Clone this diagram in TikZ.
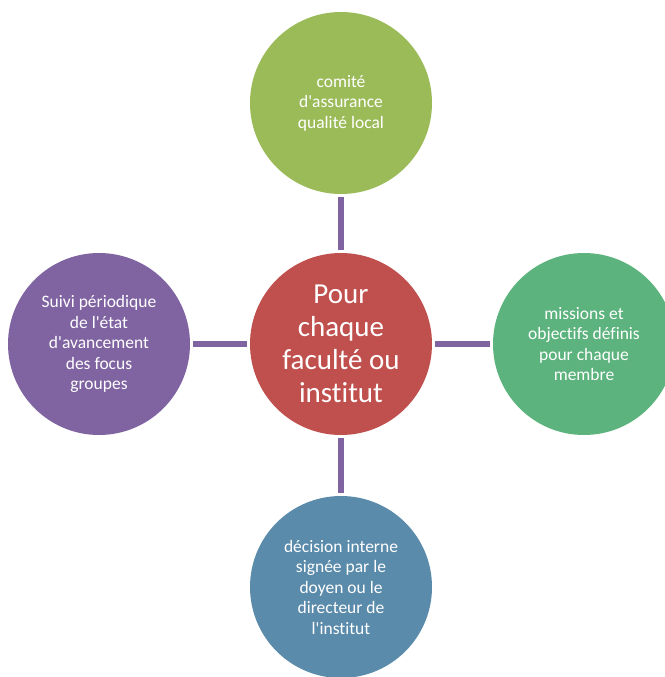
\documentclass[tikz,border=0pt]{standalone}
\usepackage{fontspec}
\setmainfont{Carlito}[Ligatures=NoCommon]
\definecolor{comitegreen}{HTML}{9BBB59}
\definecolor{centrered}{HTML}{C0504D}
\definecolor{missiongreen}{HTML}{5DB37E}
\definecolor{suivipurple}{HTML}{8064A2}
\definecolor{decisionblue}{HTML}{5B8BAB}
\definecolor{linkpurple}{HTML}{8064A2}
\newcommand{\apos}{\textquotesingle}

\begin{document}
\begin{tikzpicture}[x=1pt, y=-1pt,
    bubble/.style={circle, minimum size=182pt, inner sep=0pt, align=center,
      text=white, font=\fontsize{17.5}{20.5}\selectfont},
    link/.style={line width=6pt, draw=linkpurple, shorten >=3pt, shorten <=3pt}]
    \useasboundingbox (0, 0) rectangle (664, 677);
    \node [bubble, fill=centrered, font=\fontsize{29}{33}\selectfont] (centre) at (341, 344)
        {Pour\\chaque\\faculté ou\\institut};
    \node [bubble, fill=comitegreen] (comite) at (341, 103)
        {comité\\d\apos assurance\\qualité local};
    \node [bubble, fill=missiongreen] (missions) at (584, 344)
        {missions et\\objectifs définis\\pour chaque\\membre};
    \node [bubble, fill=decisionblue] (decision) at (341, 587)
        {décision interne\\signée par le\\doyen ou le\\directeur de\\l\apos institut};
    \node [bubble, fill=suivipurple] (suivi) at (99, 344)
        {Suivi périodique\\de l\apos état\\d\apos avancement\\des focus\\groupes};
    \draw [link] (comite) -- (centre);
    \draw [link] (centre) -- (missions);
    \draw [link] (centre) -- (decision);
    \draw [link] (suivi) -- (centre);
\end{tikzpicture}
\end{document}
